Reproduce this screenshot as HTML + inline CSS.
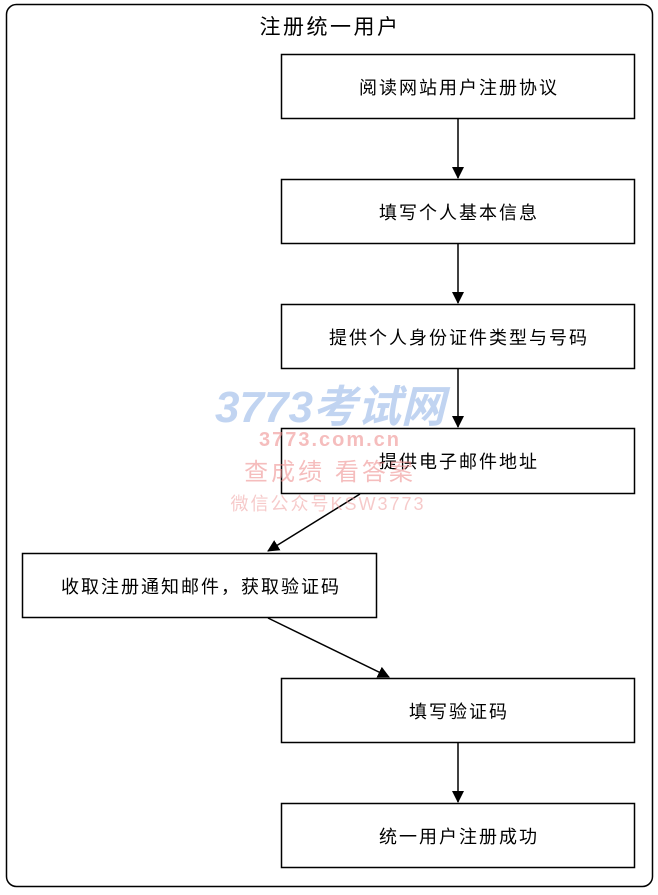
<!DOCTYPE html>
<html><head><meta charset="utf-8"><style>
body{margin:0;background:#fff;width:658px;height:890px;overflow:hidden;font-family:"Liberation Sans","Noto Sans CJK SC",sans-serif;}
</style></head><body>
<svg width="658" height="890" xmlns="http://www.w3.org/2000/svg" font-family="Liberation Sans, Noto Sans CJK SC, sans-serif">
<defs><marker id="a" markerWidth="12" markerHeight="12" refX="11" refY="6" orient="auto" markerUnits="userSpaceOnUse"><path d="M0,0 L12,6 L0,12 z" fill="#000"/></marker></defs>
<rect x="6.5" y="4.5" width="646" height="882" rx="10" fill="#fff" stroke="#000" stroke-width="1.5"/>
<text x="330" y="34" font-size="21" letter-spacing="2.5" text-anchor="middle">注册统一用户</text>
<g fill="#fff" stroke="#000" stroke-width="1.5">
<rect x="281.5" y="54.5" width="353" height="64"/>
<rect x="281.5" y="179.5" width="353" height="64"/>
<rect x="281.5" y="304.5" width="353" height="64"/>
<rect x="281.5" y="428.5" width="353" height="65"/>
<rect x="22.5" y="553.5" width="354" height="64"/>
<rect x="281.5" y="678.5" width="353" height="64"/>
<rect x="281.5" y="803.5" width="353" height="64"/>
</g>
<g font-size="18" letter-spacing="2" text-anchor="middle">
<text x="459" y="94">阅读网站用户注册协议</text>
<text x="459" y="219">填写个人基本信息</text>
<text x="459" y="344">提供个人身份证件类型与号码</text>
<text x="459" y="468">提供电子邮件地址</text>
<text x="201" y="593">收取注册通知邮件，获取验证码</text>
<text x="459" y="718">填写验证码</text>
<text x="459" y="843">统一用户注册成功</text>
</g>
<g stroke="#000" stroke-width="1.5" marker-end="url(#a)">
<line x1="458" y1="119" x2="458" y2="178"/>
<line x1="458" y1="244" x2="458" y2="303"/>
<line x1="458" y1="369" x2="458" y2="427"/>
<line x1="360" y1="494" x2="268" y2="551"/>
<line x1="268" y1="618" x2="389" y2="677"/>
<line x1="458" y1="743" x2="458" y2="802"/>
</g>
<g opacity="0.55">
<text x="330" y="422" font-size="44" font-style="italic" font-weight="bold" fill="#8fb2e6" text-anchor="middle">3773考试网</text>
<text x="330" y="446" font-size="20" font-weight="bold" fill="#e88" text-anchor="middle" letter-spacing="2">3773.com.cn</text>
<text x="330" y="480" font-size="24" fill="#e88" text-anchor="middle" letter-spacing="3">查成绩 看答案</text>
<text x="328" y="510" font-size="18" fill="#f0a0a0" text-anchor="middle" letter-spacing="2">微信公众号KSW3773</text>
</g>
</svg>
</body></html>
